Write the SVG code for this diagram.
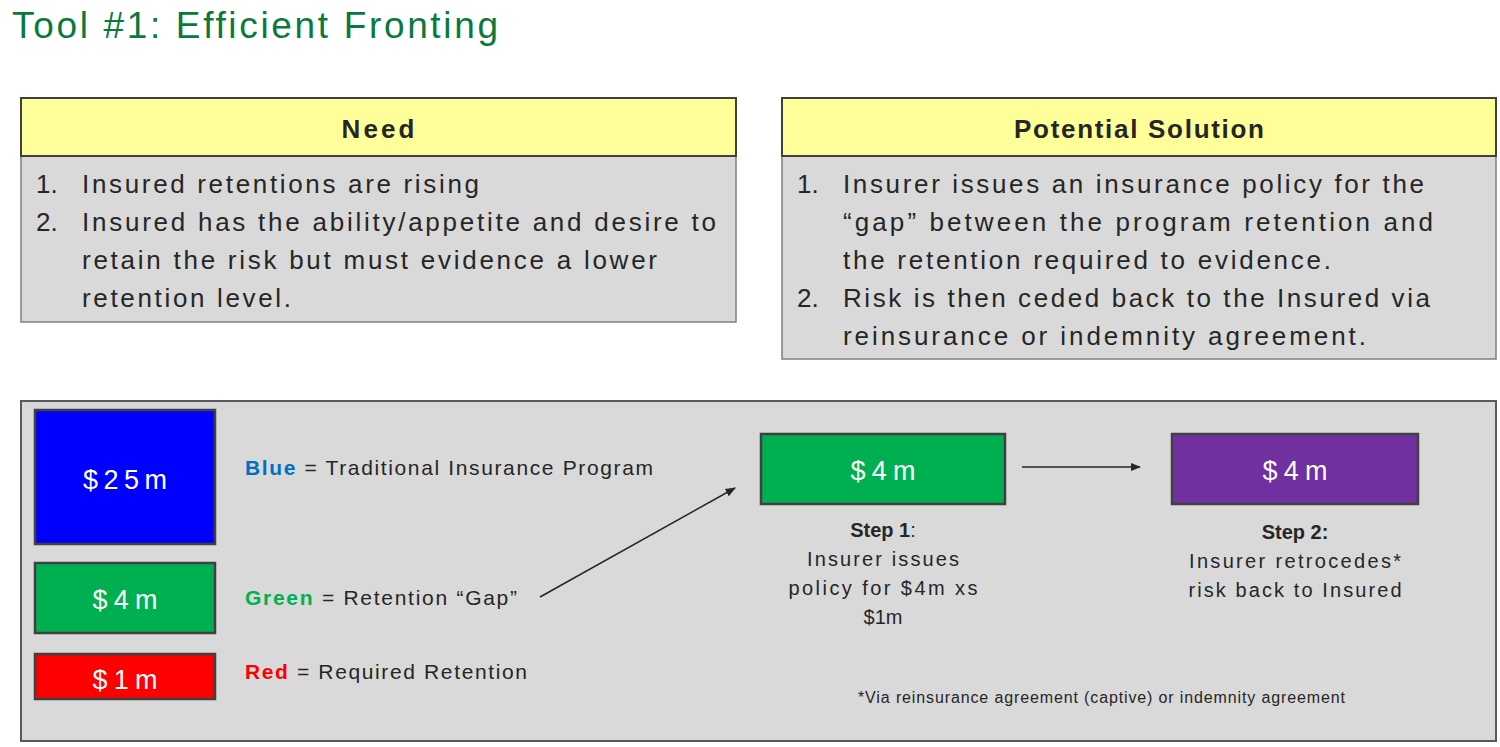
<svg xmlns="http://www.w3.org/2000/svg" width="1500" height="747" viewBox="0 0 1500 747">
<style>
text{font-family:"Liberation Sans",Arial,sans-serif;fill:#262626}
.hd{fill:#ffff99;stroke:#404040;stroke-width:2}
.bd{fill:#d9d9d9;stroke:#7f7f7f;stroke-width:1.5}
.ht{font-size:26px;font-weight:bold;text-anchor:middle}
.bt{font-size:26px}
.box{stroke:#404040;stroke-width:2.5}
.bx{font-size:27px;fill:#fff;text-anchor:middle}
.lg{font-size:21px}
.st{font-size:20px;text-anchor:middle}
.cn{stroke:#262626;stroke-width:1.5;fill:none;marker-end:url(#ah)}
</style>
<defs><marker id="ah" viewBox="0 0 10 10" refX="9" refY="5" markerWidth="7" markerHeight="7" orient="auto"><path d="M0,1 L10,5 L0,9 z" fill="#262626"/></marker></defs>
<rect width="1500" height="747" fill="#fff"/>
<text x="12" y="38" textLength="486" style="font-size:37px;fill:#0a7a3c">Tool #1: Efficient Fronting</text>
<g id="need">
<rect class="bd" x="21" y="156" width="715" height="166"/>
<rect class="hd" x="21" y="98" width="715" height="58"/>
<text class="ht" x="378" y="138" textLength="73">Need</text>
<text class="bt" x="36" y="193">1.</text>
<text class="bt" x="82" y="193" textLength="397">Insured retentions are rising</text>
<text class="bt" x="36" y="231">2.</text>
<text class="bt" x="82" y="231" textLength="634">Insured has the ability/appetite and desire to</text>
<text class="bt" x="82" y="269" textLength="575">retain the risk but must evidence a lower</text>
<text class="bt" x="82" y="307" textLength="209">retention level.</text>
</g>
<g id="solution">
<rect class="bd" x="782" y="156" width="714" height="203"/>
<rect class="hd" x="782" y="98" width="714" height="58"/>
<text class="ht" x="1139" y="138" textLength="250">Potential Solution</text>
<text class="bt" x="797" y="193">1.</text>
<text class="bt" x="843" y="193" textLength="581">Insurer issues an insurance policy for the</text>
<text class="bt" x="843" y="231" textLength="590">“gap” between the program retention and</text>
<text class="bt" x="843" y="269" textLength="488">the retention required to evidence.</text>
<text class="bt" x="797" y="307">2.</text>
<text class="bt" x="843" y="307" textLength="587">Risk is then ceded back to the Insured via</text>
<text class="bt" x="843" y="345" textLength="523">reinsurance or indemnity agreement.</text>
</g>
<rect x="21" y="401" width="1475" height="340" fill="#d9d9d9" stroke="#595959" stroke-width="2"/>
<g id="blue"><rect class="box" x="35" y="410" width="180" height="134" fill="#0000ff"/><text class="bx" x="125" y="489" textLength="84">$25m</text></g>
<g id="green"><rect class="box" x="35" y="563" width="180" height="70" fill="#00b050"/><text class="bx" x="125" y="609" textLength="65">$4m</text></g>
<g id="red"><rect class="box" x="35" y="654" width="180" height="45" fill="#ff0000"/><text class="bx" x="125" y="689" textLength="65">$1m</text></g>
<g id="legend">
<text class="lg" x="245" y="475" textLength="408"><tspan font-weight="bold" style="fill:#0070c0">Blue</tspan> = Traditional Insurance Program</text>
<text class="lg" x="245" y="605" textLength="272"><tspan font-weight="bold" style="fill:#00b050">Green</tspan> = Retention “Gap”</text>
<text class="lg" x="245" y="679" textLength="282"><tspan font-weight="bold" style="fill:#ff0000">Red</tspan> = Required Retention</text>
</g>
<g id="step1"><rect class="box" x="761" y="434" width="244" height="70" fill="#00b050"/><text class="bx" x="883" y="480" textLength="65">$4m</text>
<text class="st" x="883" y="537"><tspan font-weight="bold">Step 1</tspan>:</text>
<text class="st" x="883" y="566" textLength="152">Insurer issues</text>
<text class="st" x="883" y="595" textLength="189">policy for $4m xs</text>
<text class="st" x="883" y="624">$1m</text></g>
<g id="step2"><rect class="box" x="1172" y="434" width="246" height="70" fill="#7030a0"/><text class="bx" x="1295" y="480" textLength="65">$4m</text>
<text class="st" x="1295" y="539" font-weight="bold">Step 2:</text>
<text class="st" x="1295" y="568" textLength="212">Insurer retrocedes*</text>
<text class="st" x="1295" y="597" textLength="213">risk back to Insured</text></g>
<text x="858" y="703" textLength="487" style="font-size:16px">*Via reinsurance agreement (captive) or indemnity agreement</text>
<g id="connectors">
<line class="cn" x1="540" y1="597" x2="735" y2="488"/>
<line class="cn" x1="1022" y1="467" x2="1140" y2="467"/>
</g>
</svg>
